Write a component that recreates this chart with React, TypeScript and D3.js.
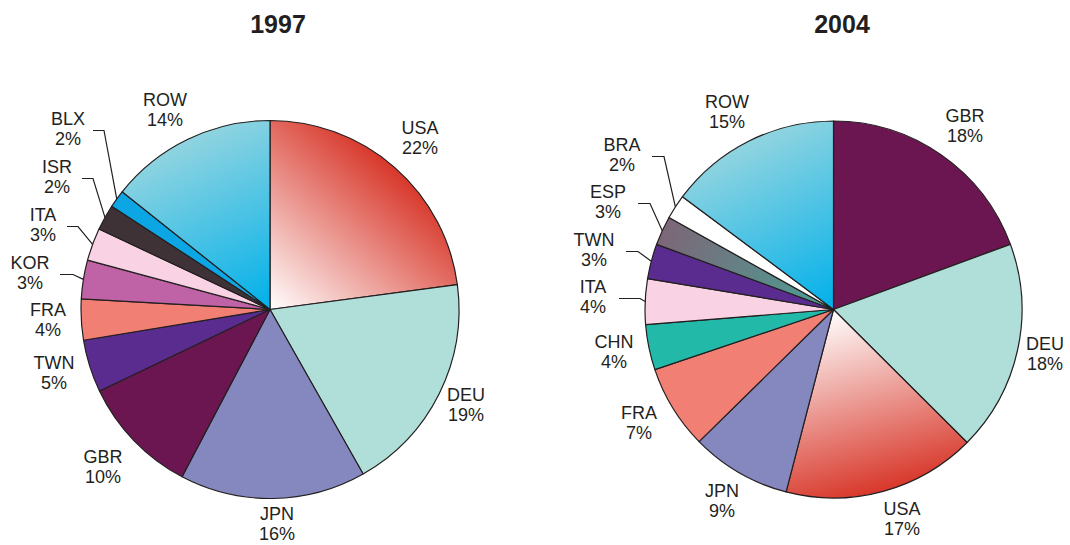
import * as d3 from "d3";

// 1997 shares (clockwise from 12 o'clock)
const countries1997 = ["USA", "DEU", "JPN", "GBR", "TWN", "FRA", "KOR", "ITA", "ISR", "BLX", "ROW"];
const share1997 = [22.9, 18.9, 15.9, 10.2, 4.5, 3.5, 3.3, 2.8, 2.2, 1.5, 14.3];
const pct1997 = ["22%", "19%", "16%", "10%", "5%", "4%", "3%", "3%", "2%", "2%", "14%"];

// 2004 shares
const countries2004 = ["GBR", "DEU", "USA", "JPN", "FRA", "CHN", "ITA", "TWN", "ESP", "BRA", "ROW"];
const share2004 = [19.4, 18.1, 16.6, 8.6, 7.2, 3.9, 3.9, 3.0, 2.5, 2.1, 14.8];
const pct2004 = ["18%", "18%", "17%", "9%", "7%", "4%", "4%", "3%", "3%", "2%", "15%"];

const solid: Record<string, string> = {
  DEU: "#b0dfd9",
  JPN: "#8587bf",
  GBR: "#6b1650",
  TWN: "#5b2c8f",
  FRA: "#f27f73",
  KOR: "#c062a6",
  ITA: "#f9d3e3",
  ISR: "#3f3236",
  BLX: "#0ca6e4",
  CHN: "#22b9a9",
  BRA: "#ffffff",
};

// gradient: [colour at centre, colour at rim]
const gradients: Record<string, [string, string]> = {
  USA: ["#ffffff", "#d8372a"],
  ROW: ["#00b0ea", "#90d4e0"],
  ESP: ["#48a196", "#7d6677"],
};

type LabelPos = { x: number; y: number; lead?: [number, number] };

const layout1997: Record<string, LabelPos> = {
  USA: { x: 420, y: 134 },
  DEU: { x: 466, y: 401 },
  JPN: { x: 277, y: 520 },
  GBR: { x: 103, y: 463 },
  TWN: { x: 54, y: 369 },
  FRA: { x: 48, y: 316 },
  KOR: { x: 30, y: 269, lead: [60, 73] },
  ITA: { x: 43, y: 221, lead: [67, 78] },
  ISR: { x: 57, y: 173, lead: [82, 93] },
  BLX: { x: 68, y: 125, lead: [93, 104] },
  ROW: { x: 165, y: 106 },
};

const layout2004: Record<string, LabelPos> = {
  GBR: { x: 965, y: 122 },
  DEU: { x: 1045, y: 350 },
  USA: { x: 902, y: 515 },
  JPN: { x: 722, y: 497 },
  FRA: { x: 639, y: 419 },
  CHN: { x: 614, y: 348 },
  ITA: { x: 593, y: 293, lead: [619, 640] },
  TWN: { x: 594, y: 246, lead: [626, 638] },
  ESP: { x: 608, y: 198, lead: [638, 650] },
  BRA: { x: 622, y: 151, lead: [652, 664] },
  ROW: { x: 727, y: 108 },
};

const ink = "#231f20";
const font = "'Liberation Sans', Arial, Helvetica, sans-serif";

function Pie({
  id,
  title,
  titleX,
  cx,
  cy,
  r,
  countries,
  shares,
  pcts,
  layout,
}: {
  id: string;
  title: string;
  titleX: number;
  cx: number;
  cy: number;
  r: number;
  countries: string[];
  shares: number[];
  pcts: string[];
  layout: Record<string, LabelPos>;
}) {
  const arcs = d3.pie<number>().sort(null).value((d) => d)(shares);
  const arc = d3.arc<d3.PieArcDatum<number>>().innerRadius(0).outerRadius(r);
  const pt = (a: number, rr: number) => [Math.sin(a) * rr, -Math.cos(a) * rr];

  return (
    <g>
      <defs>
        {arcs.map((a, i) => {
          const g = gradients[countries[i]];
          if (!g) return null;
          const mid = (a.startAngle + a.endAngle) / 2;
          const [x2, y2] = pt(mid, r);
          return (
            <linearGradient
              key={i}
              id={`${id}-${countries[i]}`}
              gradientUnits="userSpaceOnUse"
              x1={0}
              y1={0}
              x2={x2}
              y2={y2}
            >
              <stop offset="0" stopColor={g[0]} />
              <stop offset="1" stopColor={g[1]} />
            </linearGradient>
          );
        })}
      </defs>
      <g transform={`translate(${cx},${cy})`}>
        {arcs.map((a, i) => (
          <path
            key={i}
            d={arc(a) || ""}
            fill={gradients[countries[i]] ? `url(#${id}-${countries[i]})` : solid[countries[i]]}
            stroke={ink}
            strokeWidth={1.2}
            strokeLinejoin="round"
          />
        ))}
      </g>
      {arcs.map((a, i) => {
        const pos = layout[countries[i]];
        if (!pos.lead) return null;
        const mid = (a.startAngle + a.endAngle) / 2;
        const [ex, ey] = pt(mid, r);
        const ly = pos.y + 5.5;
        return (
          <polyline
            key={i}
            points={`${pos.lead[0]},${ly} ${pos.lead[1]},${ly} ${cx + ex},${cy + ey}`}
            fill="none"
            stroke={ink}
            strokeWidth={1.2}
          />
        );
      })}
      {countries.map((c, i) => {
        const pos = layout[c];
        return (
          <text key={c} x={pos.x} y={pos.y} textAnchor="middle" fontSize={18} fill={ink} fontFamily={font}>
            <tspan x={pos.x}>{c}</tspan>
            <tspan x={pos.x} dy={20}>
              {pcts[i]}
            </tspan>
          </text>
        );
      })}
      <text x={titleX} y={33} textAnchor="middle" fontSize={25} fontWeight="bold" fill={ink} fontFamily={font}>
        {title}
      </text>
    </g>
  );
}

export default function App() {
  return (
    <svg
      width={1070}
      height={545}
      style={{ position: "absolute", left: 0, top: 0, background: "#fff" }}
    >
      <Pie
        id="p97"
        title="1997"
        titleX={278}
        cx={270}
        cy={309.5}
        r={189}
        countries={countries1997}
        shares={share1997}
        pcts={pct1997}
        layout={layout1997}
      />
      <Pie
        id="p04"
        title="2004"
        titleX={842}
        cx={833.5}
        cy={309.5}
        r={188.5}
        countries={countries2004}
        shares={share2004}
        pcts={pct2004}
        layout={layout2004}
      />
    </svg>
  );
}
